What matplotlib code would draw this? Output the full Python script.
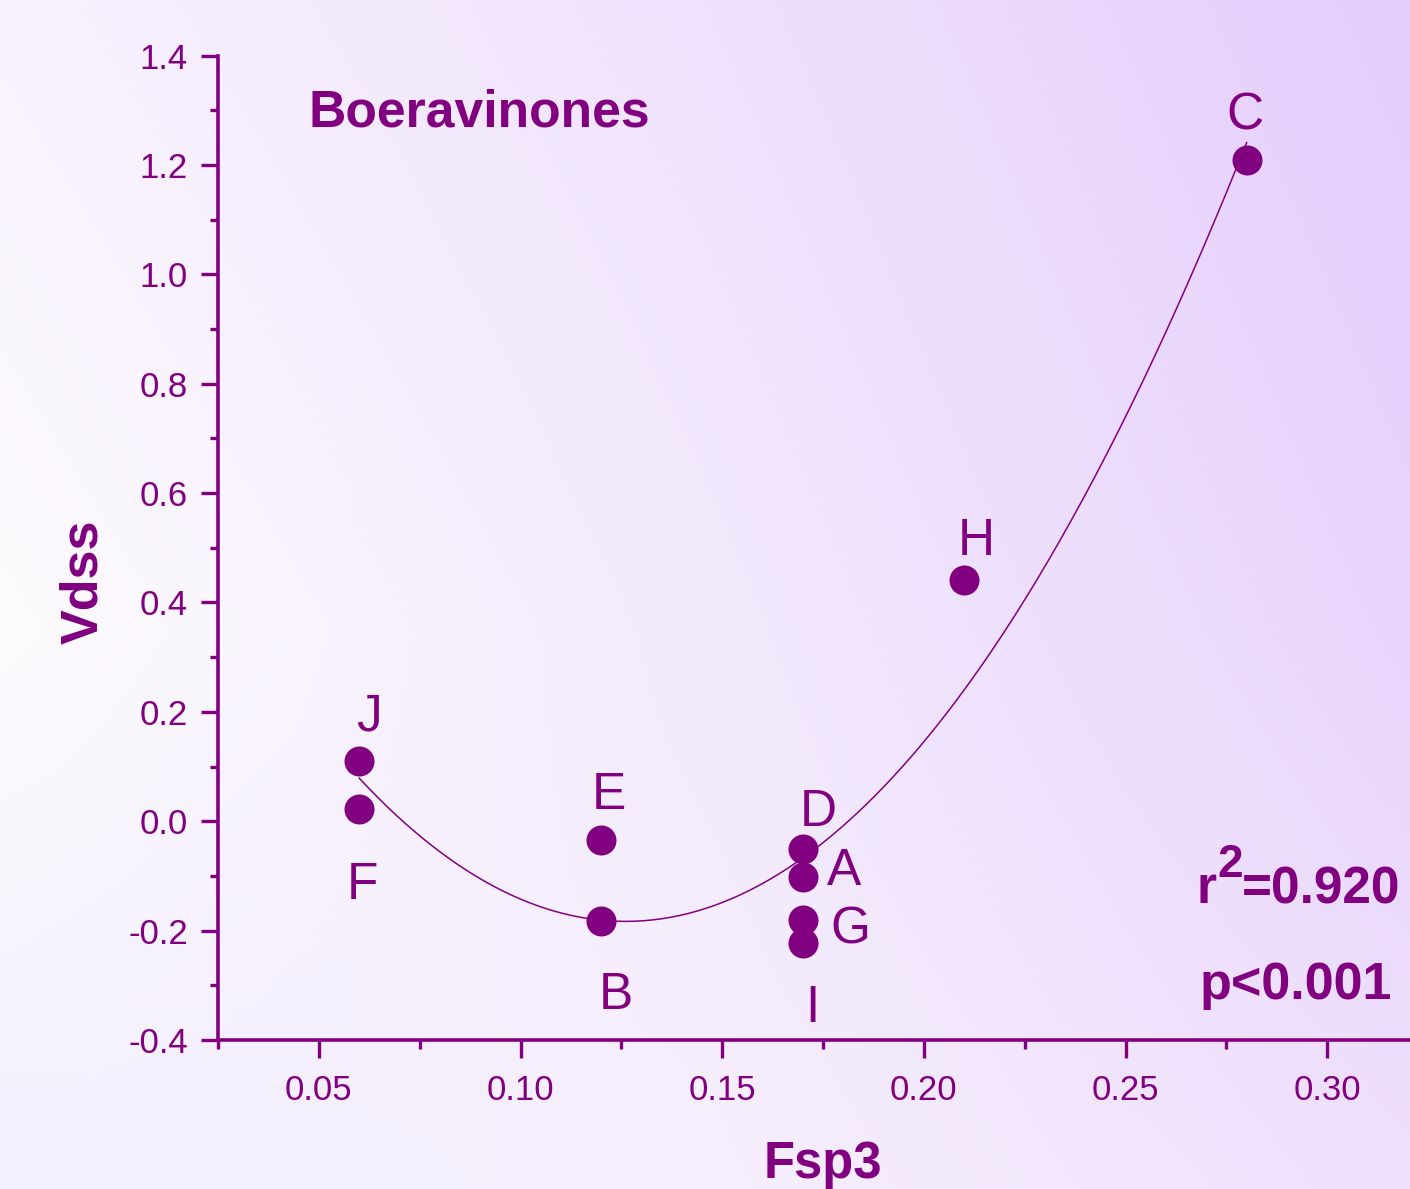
import numpy as np
import matplotlib
matplotlib.use("Agg")
import matplotlib.pyplot as plt
from matplotlib.ticker import MultipleLocator, FormatStrFormatter

# ---- data -------------------------------------------------------------
compounds = ["A", "B", "C", "D", "E", "F", "G", "H", "I", "J"]
fsp3 = [0.17, 0.12, 0.28, 0.17, 0.12, 0.06, 0.17, 0.21, 0.17, 0.06]
vdss = [-0.102, -0.183, 1.209, -0.051, -0.034, 0.023, -0.181, 0.441, -0.223, 0.110]

r2_text = "=0.920"
p_text = "p<0.001"
group_name = "Boeravinones"

# ---- style ------------------------------------------------------------
PURPLE = "#800080"
W, H = 1410, 1189
DPI = 100
plt.rcParams["font.family"] = ["Liberation Sans", "DejaVu Sans"]
plt.rcParams["axes.unicode_minus"] = False

# label offsets from each marker centre (pixels, +y up)
label_offsets = {
    "A": (40.7, 10.7), "B": (14.7, -69.5), "C": (-1.2, 49.0),
    "D": (15.2, 41.5), "E": (7.7, 49.7), "F": (3.0, -71.8),
    "G": (47.2, -5.0), "H": (12.0, 43.0), "I": (9.2, -60.7),
    "J": (9.5, 48.9),
}

fig = plt.figure(figsize=(W / DPI, H / DPI), dpi=DPI)

# soft lavender background wash
bg_x = [0.0, 0.5, 1.0]
bg_y = [0.0, 0.53, 1.0]
bg_cols = [["#f8f2fd", "#efe2fd", "#e5cdfc"],
           ["#fdfbfe", "#f3eafc", "#e8d5fc"],
           ["#f3effd", "#f6effd", "#efe0fd"]]
ctrl = np.array([[matplotlib.colors.to_rgb(c) for c in row] for row in bg_cols])
gx = np.linspace(0, 1, 300)
gy = np.linspace(0, 1, 260)
tmp = np.empty((3, gx.size, 3))
for i in range(3):
    for ch in range(3):
        tmp[i, :, ch] = np.interp(gx, bg_x, ctrl[i, :, ch])
img = np.empty((gy.size, gx.size, 3))
for j in range(gx.size):
    for ch in range(3):
        img[:, j, ch] = np.interp(gy, bg_y, tmp[:, j, ch])
bg = fig.add_axes([0, 0, 1, 1], zorder=-1)
bg.imshow(img, aspect="auto", extent=[0, 1, 0, 1], interpolation="bilinear")
bg.set_axis_off()

# main axes: left spine at x=218 px, bottom spine at y=1040 px
left, bottom = 218 / W, (H - 1040) / H
top = (H - 55.6) / H
ax = fig.add_axes([left, bottom, 1 - left, top - bottom])
ax.set_facecolor("none")
ax.set_xlim(0.025, 0.3205)
ax.set_ylim(-0.4, 1.4)

for s in ("top", "right"):
    ax.spines[s].set_visible(False)
for s in ("left", "bottom"):
    ax.spines[s].set_color(PURPLE)
    ax.spines[s].set_linewidth(2.6)

ax.xaxis.set_major_locator(MultipleLocator(0.05))
ax.xaxis.set_minor_locator(MultipleLocator(0.025))
ax.yaxis.set_major_locator(MultipleLocator(0.2))
ax.yaxis.set_minor_locator(MultipleLocator(0.1))
ax.xaxis.set_major_formatter(FormatStrFormatter("%.2f"))
ax.yaxis.set_major_formatter(FormatStrFormatter("%.1f"))

ax.tick_params(axis="both", which="both", direction="out", color=PURPLE,
               width=2.4, labelcolor=PURPLE, labelsize=25)
ax.tick_params(axis="x", which="major", length=13, pad=11.5)
ax.tick_params(axis="x", which="minor", length=6.5)
ax.tick_params(axis="y", which="major", length=12.2, pad=9.5)
ax.tick_params(axis="y", which="minor", length=5.8)

# quadratic regression curve
coef = np.polyfit(fsp3, vdss, 2)
xs = np.linspace(min(fsp3), max(fsp3), 300)
ax.plot(xs, np.polyval(coef, xs), color=PURPLE, lw=1.1, zorder=2)

# compounds
ax.plot(fsp3, vdss, "o", ms=21.6, color=PURPLE, mec="none", zorder=3,
        clip_on=False)
for name, xv, yv in zip(compounds, fsp3, vdss):
    dx, dy = label_offsets[name]
    ax.annotate(name, (xv, yv), xytext=(dx * 72 / DPI, (dy - 18.4) * 72 / DPI),
                textcoords="offset points", ha="center", va="baseline",
                fontsize=37, color=PURPLE)

# axis titles
ax.set_xlabel("Fsp3", fontsize=36.5, fontweight="bold", color=PURPLE, va="baseline")
ax.xaxis.set_label_coords((823 - 218) / 1192, (1040 - 1178) / 984.4)
ax.set_ylabel("Vdss", fontsize=37.5, fontweight="bold", color=PURPLE, va="baseline")
ax.yaxis.set_label_coords((97 - 218) / 1192, (1040 - 582) / 984.4)


def fxy(px, py):
    return px / W, 1 - py / H


fig.text(*fxy(308, 126.7), group_name, fontsize=37.2, fontweight="bold",
         color=PURPLE, ha="left", va="baseline")
fig.text(*fxy(1400, 903.3), r2_text, fontsize=37, fontweight="bold",
         color=PURPLE, ha="right", va="baseline")
fig.text(*fxy(1243, 877), "2", fontsize=33, fontweight="bold",
         color=PURPLE, ha="right", va="baseline")
fig.text(*fxy(1216, 903.3), "r", fontsize=37, fontweight="bold",
         color=PURPLE, ha="right", va="baseline")
fig.text(*fxy(1392, 999), p_text, fontsize=37.5, fontweight="bold",
         color=PURPLE, ha="right", va="baseline")

fig.savefig("out.png", dpi=DPI)
